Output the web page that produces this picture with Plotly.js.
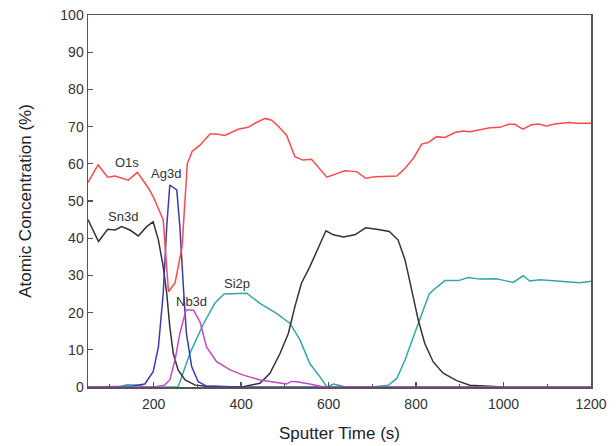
<!DOCTYPE html>
<html>
<head>
<meta charset="utf-8">
<script src="https://cdn.plot.ly/plotly-3.0.1.min.js"></script>
<style>html,body{margin:0;padding:0;background:#fff;}#chart{width:616px;height:446px;}</style>
</head>
<body>
<div id="chart"></div>
<script>
// O1s
var o1sX = [50,73,95,112,142,163,188,199,222,234,249,265,277,288,306,329,344,363,393,416,432,455,470,485,504,523,541,561,596,619,637,664,685,706,733,756,775,794,813,828,847,866,889,908,923,946,969,992,1011,1026,1044,1064,1079,1098,1117,1148,1167,1200];
var o1sY = [55,59.7,56.4,56.7,55.6,57.7,53.5,51.2,44.9,25.6,28,37.6,60,63.3,65,68,68,67.6,69.3,69.8,70.9,72.2,71.7,70.1,67.7,61.9,61,61.2,56.4,57.4,58.1,57.9,56.1,56.5,56.7,56.7,58.8,61.5,65.3,65.7,67.3,67.1,68.4,68.8,68.6,69.2,69.7,69.8,70.6,70.6,69.3,70.5,70.7,70.2,70.7,71.1,70.9,70.9];
// Sn3d
var sn3dX = [50,74,95,112,127,146,165,184,199,211,222,230,237,245,256,272,295,320,360,405,443,466,489,508,523,538,557,577,594,611,634,660,685,710,739,759,775,790,805,820,839,862,893,923,946,975,1000];
var sn3dY = [45,39.1,42.4,42.2,43.1,42.2,40.6,43.1,44.4,39.5,32.3,25.2,16.2,9.0,4.6,1.9,0.5,0.2,0.1,0.1,1.0,3.7,9.0,14.4,21.6,27.9,32.3,37.7,42.0,40.9,40.3,40.9,42.8,42.4,41.8,39.5,34.1,26.1,18.0,11.7,6.8,3.7,1.7,0.5,0.3,0.1,0];
// Ag3d
var ag3dX = [50,100,150,180,199,211,222,230,237,253,260,268,275,287,302,320,400,600,800,1000,1200];
var ag3dY = [0,0,0.2,0.8,4.1,10.8,25.2,43.1,54.3,53.0,43.1,27.0,14.4,5.5,1.4,0.3,0,0,0,0,0];
// Nb3d
var nb3dX = [50,200,225,237,249,260,274,291,306,321,344,375,405,443,481,504,515,527,557,587,620,800,1000,1200];
var nb3dY = [0,0,0.5,1.9,7.3,14.4,20.7,20.7,17.5,10.8,6.8,4.6,3.2,1.9,1.2,0.8,1.5,1.4,0.8,0.1,0,0,0,0];
// Si2p
var si2pX = [50,120,140,165,180,230,256,283,314,340,361,413,443,481,512,535,557,580,596,611,640,700,737,756,775,794,813,830,847,866,897,919,946,984,1003,1022,1045,1060,1083,1106,1129,1152,1175,1200];
var si2pY = [0,0,0.6,0.5,0,0,0,9,17,22.5,25,25.2,22.5,19.8,17.1,12.6,6.3,2.8,0,0.8,0,0,0.5,2.3,7.3,13.5,19.8,25,26.8,28.6,28.6,29.4,29,29.1,28.6,28.1,29.9,28.5,28.8,28.6,28.4,28,28,28.4];

var labelNames = ["O1s","Ag3d","Sn3d","Nb3d","Si2p"];
var labelX = [140,228,131,286,390];
var labelY = [60.3,57.3,45.8,23,27.9];

var font = "Arial, 'Liberation Sans', sans-serif";
function tr(x,y,name,color){
  return {x:x,y:y,name:name,type:'scatter',mode:'lines',line:{color:color,width:1.5},hoverinfo:'x+y+name'};
}
var data = [
  tr(si2pX,si2pY,'Si2p','#33a6a6'),
  tr(sn3dX,sn3dY,'Sn3d','#333333'),
  tr(ag3dX,ag3dY,'Ag3d','#3a3ab8'),
  tr(o1sX,o1sY,'O1s','#ff4a4a'),
  tr(nb3dX,nb3dY,'Nb3d','#c548c5')
];
var annotations = labelNames.map(function(t,i){
  return {x:labelX[i],y:labelY[i],xref:'x',yref:'y',text:t,showarrow:false,font:{family:font,size:13,color:'#333'}};
});
var layout = {
  width:616,height:446,
  margin:{l:88,r:25,t:15,b:59},
  paper_bgcolor:'#fff',plot_bgcolor:'#fff',
  showlegend:false,
  font:{family:font,color:'#333'},
  annotations:annotations,
  xaxis:{
    range:[50,1200],tick0:0,dtick:200,ticks:'inside',ticklen:5,tickcolor:'#555',tickwidth:1.2,
    minor:{dtick:100,tick0:0,ticks:'inside',ticklen:3,tickcolor:'#555',showgrid:false},
    showline:true,mirror:true,linecolor:'#555',linewidth:1.5,showgrid:false,zeroline:false,
    ticklabelstandoff:4,
    tickfont:{family:font,size:14,color:'#333'},
    title:{text:'Sputter Time (s)',font:{family:font,size:17,color:'#222'},standoff:16}
  },
  yaxis:{
    range:[0,100],tick0:0,dtick:10,ticks:'inside',ticklen:5,tickcolor:'#555',tickwidth:1.2,
    showline:true,mirror:true,linecolor:'#555',linewidth:1.5,showgrid:false,zeroline:false,
    tickfont:{family:font,size:14,color:'#333'},
    title:{text:'Atomic Concentration (%)',font:{family:font,size:17,color:'#222'},standoff:24}
  }
};
Plotly.newPlot('chart',data,layout,{displayModeBar:false,staticPlot:true});
</script>
</body>
</html>
